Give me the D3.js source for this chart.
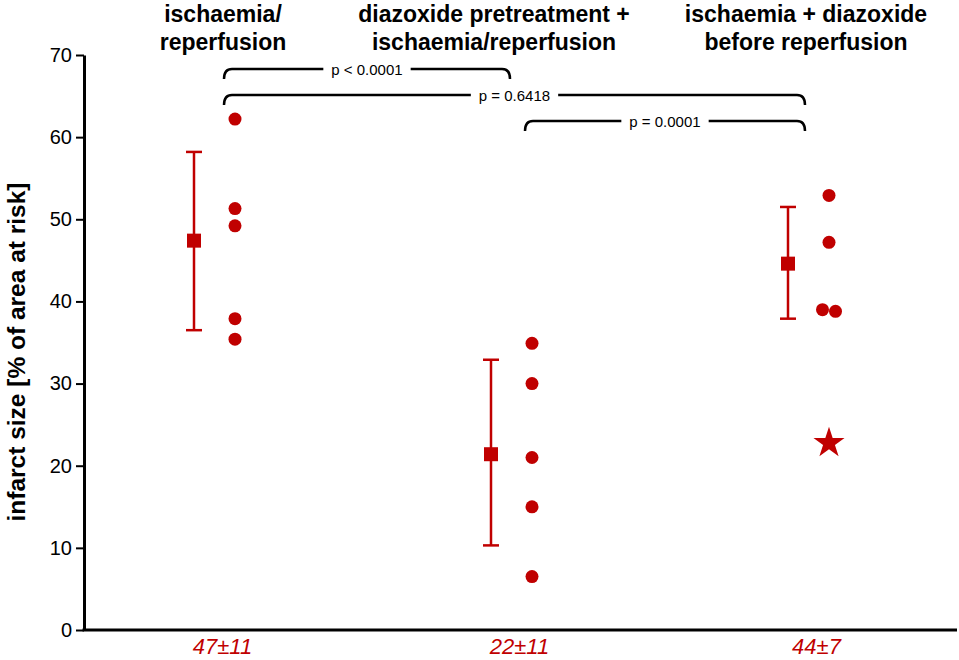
<!DOCTYPE html>
<html>
<head>
<meta charset="utf-8">
<script src="https://cdn.jsdelivr.net/npm/d3@7"></script>
<style>
  body { margin: 0; background: #fff; }
  svg { display: block; font-family: "Liberation Sans", Arial, sans-serif; }
</style>
</head>
<body>
<div id="chart"></div>
<script>
// données
const groups = ["I/R", "DZX-pre + I/R", "I + DZX"];
const headers = [
  ["ischaemia/", "reperfusion"],
  ["diazoxide pretreatment +", "ischaemia/reperfusion"],
  ["ischaemia + diazoxide", "before reperfusion"]
];
const tickLabels = ["47±11", "22±11", "44±7"];
const means = [47.4, 21.4, 44.6];
const sdLow = [36.5, 10.3, 37.9];
const sdHigh = [58.2, 32.9, 51.5];
const values1 = [62.2, 51.3, 49.2, 37.9, 35.4];
const values2 = [34.9, 30.0, 21.0, 15.0, 6.5];
const values3 = [52.9, 47.2, 39.0, 38.8];
const outlier3 = [23.0];
const yTicks = [0, 10, 20, 30, 40, 50, 60, 70];
const pairs = [[0, 1], [0, 2], [1, 2]];
const pLabels = ["p < 0.0001", "p = 0.6418", "p = 0.0001"];

// constantes
const w = 959;
const h = 660;
const red = "#c00000";
const axeXpos = 84;

const svg = d3.select("#chart")
  .append("svg")
  .attr("width", w)
  .attr("height", h);

// échelles
const xScale = d3.scalePoint().domain(groups).range([214, 808]);
const yScale = d3.scaleLinear().domain([0, 70]).range([630, 55]);

// axe y
const axeY = d3.axisLeft(yScale)
  .tickValues(yTicks)
  .tickSize(8)
  .tickSizeOuter(0)
  .tickPadding(4);

const gY = svg.append("g")
  .attr("transform", "translate(" + axeXpos + ",0)")
  .call(axeY);
gY.select(".domain").attr("stroke-width", 3);
gY.selectAll(".tick line").attr("stroke-width", 2);
gY.selectAll(".tick text")
  .attr("font-size", "20px")
  .attr("font-family", "Liberation Sans, Arial, sans-serif")
  .attr("fill", "#000");

// axe x
svg.append("line")
  .attr("x1", axeXpos - 1.5)
  .attr("x2", w - 2)
  .attr("y1", yScale(0))
  .attr("y2", yScale(0))
  .attr("stroke", "#000")
  .attr("stroke-width", 3);

const axeX = d3.axisBottom(xScale)
  .tickSize(0)
  .tickPadding(0)
  .tickFormat((d, i) => tickLabels[i]);

const gX = svg.append("g")
  .attr("transform", "translate(8," + yScale(0) + ")")
  .call(axeX);
gX.select(".domain").remove();
gX.selectAll(".tick text")
  .attr("dy", null)
  .attr("y", 24)
  .attr("font-size", "22px")
  .attr("font-style", "italic")
  .attr("font-family", "Liberation Sans, Arial, sans-serif")
  .attr("fill", red);

// titre axe y
svg.append("text")
  .attr("transform", "translate(25," + 352 + ") rotate(-90)")
  .attr("text-anchor", "middle")
  .attr("font-size", "24.5px")
  .attr("font-weight", "bold")
  .text("infarct size [% of area at risk]");

// en-têtes
const headerShift = [9, -17, -2];
headers.forEach((lines, i) => {
  const t = svg.append("text")
    .attr("text-anchor", "middle")
    .attr("font-size", "23px")
    .attr("font-weight", "bold");
  lines.forEach((l, j) => {
    t.append("tspan")
      .attr("x", xScale(groups[i]) + headerShift[i])
      .attr("y", 22 + j * 28)
      .text(l);
  });
});

// barres d'erreur + moyennes
const meanX = d => xScale(d) - 20;
const dotX = d => xScale(d) + 21;

groups.forEach((g, i) => {
  const mx = meanX(g);
  svg.append("line")
    .attr("x1", mx).attr("x2", mx)
    .attr("y1", yScale(sdHigh[i])).attr("y2", yScale(sdLow[i]))
    .attr("stroke", red).attr("stroke-width", 2.5);
  [sdHigh[i], sdLow[i]].forEach(v => {
    svg.append("line")
      .attr("x1", mx - 8).attr("x2", mx + 8)
      .attr("y1", yScale(v)).attr("y2", yScale(v))
      .attr("stroke", red).attr("stroke-width", 2.5);
  });
  svg.append("rect")
    .attr("x", mx - 7).attr("y", yScale(means[i]) - 7)
    .attr("width", 14).attr("height", 14)
    .attr("fill", red);
});

// points individuels
const allValues = [values1, values2, values3];
allValues.forEach((vals, i) => {
  const cx = dotX(groups[i]);
  vals.forEach((v, k) => {
    // décalage si deux points se chevauchent
    let off = 0;
    vals.forEach((u, m) => {
      if (m !== k && Math.abs(yScale(u) - yScale(v)) < 10) off = m > k ? -6.5 : 6.5;
    });
    svg.append("circle")
      .attr("cx", cx + off)
      .attr("cy", yScale(v))
      .attr("r", 6.5)
      .attr("fill", red);
  });
});

// étoile
svg.selectAll(".star")
  .data(outlier3)
  .enter()
  .append("path")
  .attr("class", "star")
  .attr("d", d3.symbol(d3.symbolStar).size(300))
  .attr("transform", d => "translate(" + dotX(groups[2]) + "," + (yScale(d) + 2) + ")")
  .attr("fill", red);

// accolades
const bracketEnds = [[10, -1], [10, -3], [14, -3]];
const bracketY = [69, 95, 121];
pairs.forEach((p, i) => {
  const x1 = xScale(groups[p[0]]) + bracketEnds[i][0];
  const x2 = xScale(groups[p[1]]) + bracketEnds[i][1];
  const y = bracketY[i];
  const r = 8;
  const g = svg.append("g");
  g.append("path")
    .attr("d", "M" + x1 + "," + (y + 10) +
      " Q" + x1 + "," + y + " " + (x1 + r) + "," + y +
      " L" + (x2 - r) + "," + y +
      " Q" + x2 + "," + y + " " + x2 + "," + (y + 10))
    .attr("fill", "none")
    .attr("stroke", "#000")
    .attr("stroke-width", 2.5);
  const bg = g.append("rect").attr("fill", "#fff");
  const lbl = g.append("text")
    .attr("x", (x1 + x2) / 2)
    .attr("y", y + 5.5)
    .attr("text-anchor", "middle")
    .attr("font-size", "15px")
    .text(pLabels[i]);
  const bb = lbl.node().getBBox();
  bg.attr("x", bb.x - 8).attr("y", y - 4)
    .attr("width", bb.width + 16).attr("height", 8);
});
</script>
</body>
</html>
